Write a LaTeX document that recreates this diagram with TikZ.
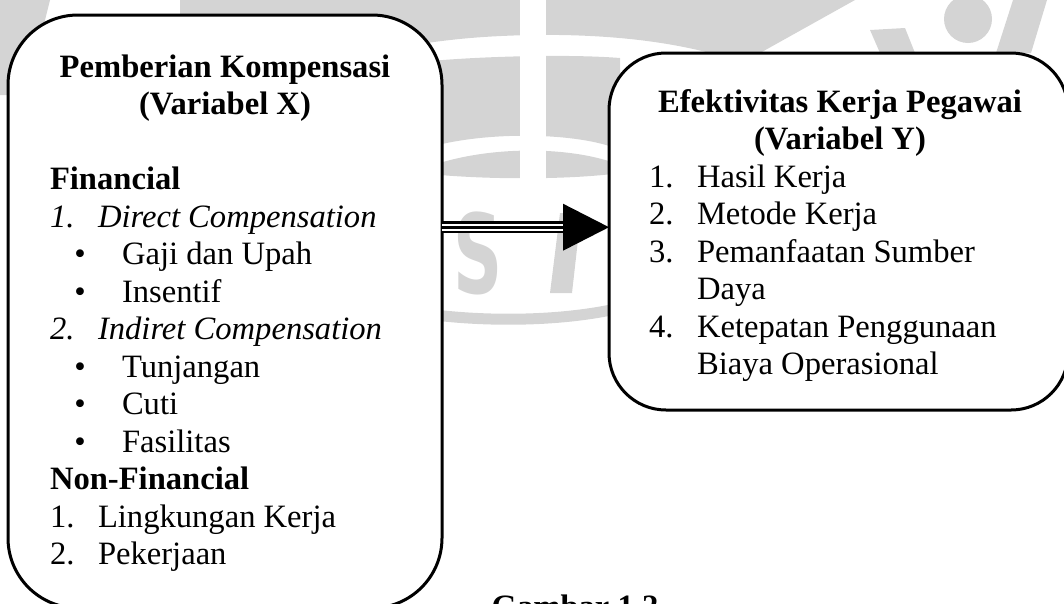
\documentclass[tikz,border=0pt]{standalone}
\usepackage{fontspec}
\setmainfont{Liberation Serif}
\setsansfont{DejaVu Sans}
\definecolor{wm}{RGB}{212,212,212}
\begin{document}
\begin{tikzpicture}[x=1pt,y=-1pt,
  txt/.style={inner sep=0pt, outer sep=0pt, anchor=base west, font=\fontsize{32.6pt}{37.5pt}\selectfont},
  itx/.style={txt, font=\fontsize{32.6pt}{37.5pt}\selectfont\itshape},
  bld/.style={txt, font=\fontsize{32.6pt}{37.5pt}\selectfont\bfseries},
  ttl/.style={bld, anchor=base},
  bul/.style={txt, anchor=base},
  boxstyle/.style={draw=black, fill=white, line width=3pt, inner sep=0pt, outer sep=0pt},
  wmfill/.style={fill=wm, draw=none}
]
\useasboundingbox (0,0) rectangle (1064,603);
\clip (0,0) rectangle (1064,603);

% ---------- faint watermark ----------
\fill[wmfill] (0,0) -- (50,0) -- (40,40) -- (12,95) -- (0,95) -- cycle;
\fill[wmfill] (180,0) -- (855,0) -- (760,53) -- (710,53)
   .. controls (660,40) and (600,34) .. (530,35)
   .. controls (490,36) and (460,38) .. (420,44) -- (370,60) -- (180,16) -- cycle;
\fill[wmfill] (420,62) .. controls (480,56) and (570,54) .. (620,58) -- (620,150)
   .. controls (580,132) and (480,130) .. (420,150) -- cycle;
\fill[wmfill] (420,170) .. controls (480,145) and (570,145) .. (620,165) -- (620,173)
   .. controls (570,180) and (480,180) .. (420,173) -- cycle;
\fill[white] (520,0) rectangle (546,182);
\node[font=\fontsize{110pt}{110pt}\sffamily\bfseries, text=wm, xscale=0.62, inner sep=0pt, anchor=base] (wmS) at (478,293) {S};
\fill[wmfill] (560,213) -- (581,213) -- (572,293) -- (550,293) -- cycle;
\draw[wm, line width=11pt] (420,313) .. controls (480,322) and (560,322) .. (620,308);
\fill[wmfill] (870,30) -- (905,28) -- (915,53) -- (880,53) -- cycle;
\fill[wmfill] (968,19) circle (24);
\fill[wmfill] (1013,0) -- (1047,0) -- (1031,53) -- (996,53) -- cycle;

% ---------- boxes ----------
\node[boxstyle, rounded corners=70pt, minimum width=434pt, minimum height=593pt] (lbox) at (225,311.5) {};
\node[boxstyle, rounded corners=57pt, minimum width=459pt, minimum height=357pt] (rbox) at (838.5,231.5) {};

% ---------- left box text ----------
\node[ttl] (l1) at (225,77) {Pemberian Kompensasi};
\node[ttl] (l2) at (225,114.5) {(Variabel X)};
\node[bld] (l3) at (50,189.5) {Financial};
\node[itx] (l4n) at (50,227) {1.};
\node[itx] (l4) at (98,227) {Direct Compensation};
\node[bul] (l5b) at (80,264.5) {\textbullet};
\node[txt] (l5) at (122,264.5) {Gaji dan Upah};
\node[bul] (l6b) at (80,302) {\textbullet};
\node[txt] (l6) at (122,302) {Insentif};
\node[itx] (l7n) at (50,339.5) {2.};
\node[itx] (l7) at (98,339.5) {Indiret Compensation};
\node[bul] (l8b) at (80,377) {\textbullet};
\node[txt] (l8) at (122,377) {Tunjangan};
\node[bul] (l9b) at (80,414.5) {\textbullet};
\node[txt] (l9) at (122,414.5) {Cuti};
\node[bul] (l10b) at (80,452) {\textbullet};
\node[txt] (l10) at (122,452) {Fasilitas};
\node[bld] (l11) at (50,489.5) {Non-Financial};
\node[txt] (l12n) at (50,527) {1.};
\node[txt] (l12) at (98,527) {Lingkungan Kerja};
\node[txt] (l13n) at (50,564.5) {2.};
\node[txt] (l13) at (98,564.5) {Pekerjaan};

% ---------- right box text ----------
\node[ttl] (r1) at (840,112) {Efektivitas Kerja Pegawai};
\node[ttl] (r2) at (840,149.5) {(Variabel Y)};
\node[txt] (r3n) at (649,187) {1.};
\node[txt] (r3) at (697,187) {Hasil Kerja};
\node[txt] (r4n) at (649,224.5) {2.};
\node[txt] (r4) at (697,224.5) {Metode Kerja};
\node[txt] (r5n) at (649,262) {3.};
\node[txt] (r5) at (697,262) {Pemanfaatan Sumber};
\node[txt] (r6) at (697,299.5) {Daya};
\node[txt] (r7n) at (649,337) {4.};
\node[txt] (r7) at (697,337) {Ketepatan Penggunaan};
\node[txt] (r8) at (697,374.5) {Biaya Operasional};

% ---------- caption (cut off) ----------
\node[ttl] (cap) at (575,617) {Gambar 1.2};

% ---------- arrow ----------
\coordinate (tip) at (rbox.west |- 0,227.2);
\draw[black, line width=12.3pt, shorten >=46pt] (lbox.east |- 0,227.2) -- (tip);
\draw[white, line width=7.4pt, shorten >=46pt] (lbox.east |- 0,227.2) -- (tip);
\draw[black, line width=2.7pt, shorten >=46pt] (lbox.east |- 0,227.2) -- (tip);
\fill[black] (tip) -- ++(-46,-23.5) -- ++(0,47) -- cycle;
\end{tikzpicture}
\end{document}
